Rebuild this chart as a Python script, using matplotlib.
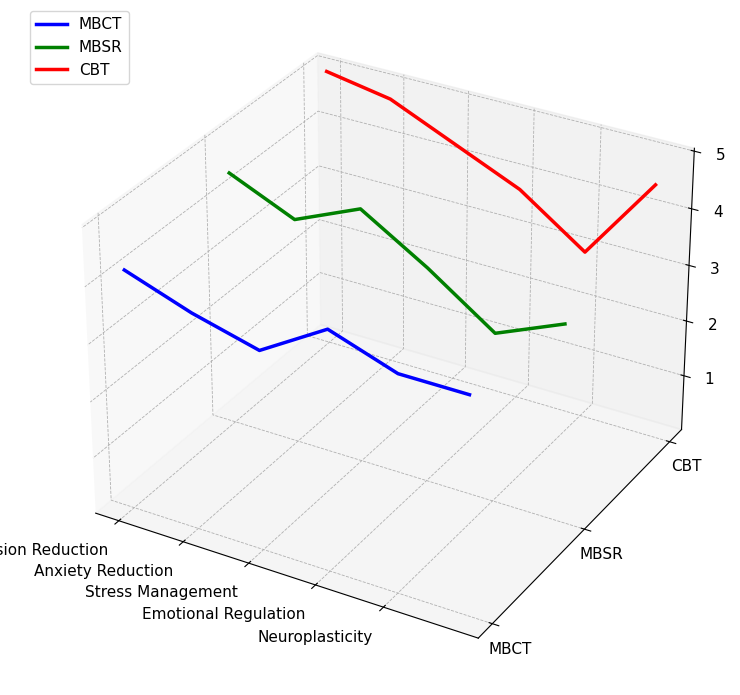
import matplotlib
matplotlib.use("Agg")
import matplotlib.pyplot as plt
import numpy as np

categories = ["Depression Reduction", "Anxiety Reduction", "Stress Management", "Emotional Regulation", "Neuroplasticity"]
therapies = ["MBCT", "MBSR", "CBT"]
colors = ["blue", "green", "red"]
values = {
    "MBCT": [4.2, 3.8, 3.5, 4.2, 3.8, 3.8],
    "MBSR": [4.5, 4.0, 4.5, 3.8, 3.0, 3.5],
    "CBT": [5.0, 4.8, 4.3, 3.8, 3.0, 4.5],
}

plt.rcParams["font.size"] = 11
fig = plt.figure(figsize=(7.4, 6.95), dpi=100)
ax = fig.add_axes([0.04, 0.02, 0.96, 0.98], projection="3d")
for i, (t, c) in enumerate(zip(therapies, colors)):
    z = values[t]
    x = np.arange(len(z))
    ax.plot(x, np.full(len(z), i), z, color=c, lw=2.5, label=t)
ax.set_xticks(range(len(categories)))
ax.set_xticklabels(categories, ha="right")
ax.set_yticks(range(3))
ax.set_yticklabels(therapies)
ax.set_zlim(0, 5.05)
ax.set_zticks([1, 2, 3, 4, 5])
for a in (ax.xaxis, ax.yaxis, ax.zaxis):
    a._axinfo["grid"]["linestyle"] = "--"
    a._axinfo["grid"]["linewidth"] = 0.6
fig.legend(loc="upper left", bbox_to_anchor=(0.03, 0.995))
fig.savefig("out.png")
